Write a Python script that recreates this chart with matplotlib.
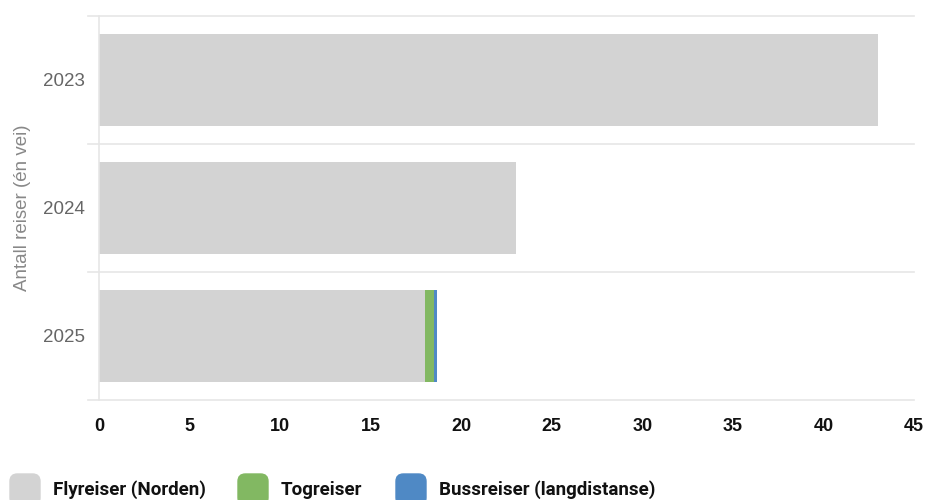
"""Antall reiser per år, stablet horisontalt stolpediagram."""
import matplotlib
matplotlib.use("Agg")
import matplotlib.pyplot as plt
from matplotlib.patches import FancyBboxPatch

years = ["2023", "2024", "2025"]
series_names = ["Flyreiser (Norden)", "Togreiser", "Bussreiser (langdistanse)"]
fly = [43, 23, 18]
tog = [0, 0, 0.5]
buss = [0, 0, 0.15]
colors = ["#d3d3d3", "#82b862", "#4f89c5"]
xticks = [0, 5, 10, 15, 20, 25, 30, 35, 40, 45]

W, H = 926, 500
fig = plt.figure(figsize=(W / 100, H / 100), dpi=100)
ax = fig.add_axes([99 / W, 1 - 400 / H, (914 - 99) / W, (400 - 16) / H])

y = list(range(len(years)))
left = [0] * len(years)
for vals, col in zip([fly, tog, buss], colors):
    ax.barh(y, vals, left=left, height=0.72, color=col, zorder=2)
    left = [a + b for a, b in zip(left, vals)]

ax.set_ylim(2.5, -0.5)
ax.set_xlim(0, 45)
ax.set_xticks(xticks)
ax.set_xticklabels([str(v) for v in xticks], fontsize=13, fontweight="bold",
                   family="Liberation Sans", color="#111111")
ax.set_yticks(y)
ax.set_yticklabels(years, fontsize=13.5, family="Liberation Sans", color="#666666")
ax.tick_params(axis="x", length=0, pad=13)
ax.tick_params(axis="y", length=0, pad=10)

for b in [-0.5, 0.5, 1.5, 2.5]:
    ax.plot([-0.6, 45], [b, b], color="#e6e6e6", lw=1.2, clip_on=False, zorder=1)
for s in ["top", "right", "bottom"]:
    ax.spines[s].set_visible(False)
ax.spines["left"].set_color("#e6e6e6")
ax.spines["left"].set_linewidth(1.2)

ax.set_ylabel("Antall reiser (én vei)", fontsize=13.5, family="Liberation Sans",
              color="#888888", labelpad=9)

# legend
leg_x = [10, 238, 396]
for lx, name, col in zip(leg_x, series_names, colors):
    p = FancyBboxPatch(((lx) / W, 1 - 505 / H), 30 / W, 31 / H,
                       boxstyle="round,pad=0,rounding_size=0.008",
                       transform=fig.transFigure, color=col, clip_on=False,
                       mutation_aspect=W / H)
    fig.patches.append(p)
    fig.text((lx + 43) / W, 1 - 490 / H, name, fontsize=13.5, fontweight="bold",
             family="Roboto", color="#111111", va="center", ha="left")

fig.savefig("out.png", dpi=100)
